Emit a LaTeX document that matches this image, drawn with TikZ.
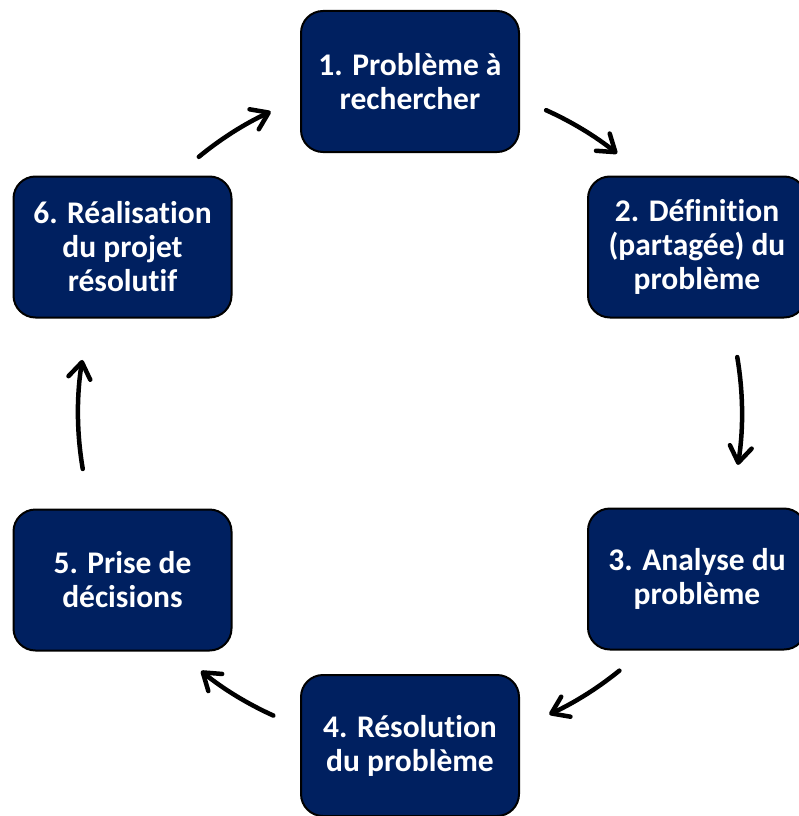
\documentclass[tikz,border=0pt]{standalone}
\usepackage{fontspec}
\setmainfont{Carlito}[Ligatures={NoCommon}]
\usetikzlibrary{arrows.meta}
\definecolor{navybox}{RGB}{0,32,96}
\begin{document}
\begin{tikzpicture}[x=1pt,y=-1pt,
  stepbox/.style={rectangle, rounded corners=22pt, fill=navybox, draw=black,
    line width=2pt, minimum width=218pt, minimum height=141pt, align=center,
    text=white, inner sep=0pt, font=\bfseries\fontsize{31.5}{34}\selectfont},
  arr/.style={line width=4.5pt, line cap=round,
    -{Straight Barb[length=16pt, width=22pt, round]}}]
\useasboundingbox (0,0) rectangle (799,816);
\coordinate (C) at (410,413);
\node[stepbox] (n1) at (410,81.5) {1. Problème à\\rechercher};
\node[stepbox] (n2) at (697,247) {2. Définition\\(partagée) du\\problème};
\node[stepbox] (n3) at (697,579) {3. Analyse du\\problème};
\node[stepbox] (n4) at (410,745.5) {4. Résolution\\du problème};
\node[stepbox] (n5) at (122.5,580) {5. Prise de\\décisions};
\node[stepbox] (n6) at (122.5,247) {6. Réalisation\\du projet\\résolutif};
\coordinate (a1) at ([shift={(-129.5:332)}]C);
\coordinate (a2) at ([shift={(-65.8:332)}]C);
\coordinate (a3) at ([shift={(-9.7:332)}]C);
\coordinate (a4) at ([shift={(50.9:332)}]C);
\coordinate (a5) at ([shift={(114.3:332)}]C);
\coordinate (a6) at ([shift={(170.3:332)}]C);
\draw[arr] (a1) arc[start angle=-129.5, end angle=-114.8, radius=332];
\draw[arr] (a2) arc[start angle=-65.8, end angle=-51.4, radius=332];
\draw[arr] (a3) arc[start angle=-9.7, end angle=9.0, radius=332];
\draw[arr] (a4) arc[start angle=50.9, end angle=65.2, radius=332];
\draw[arr] (a5) arc[start angle=114.3, end angle=129.0, radius=332];
\draw[arr] (a6) arc[start angle=170.3, end angle=189.2, radius=332];
\end{tikzpicture}
\end{document}
